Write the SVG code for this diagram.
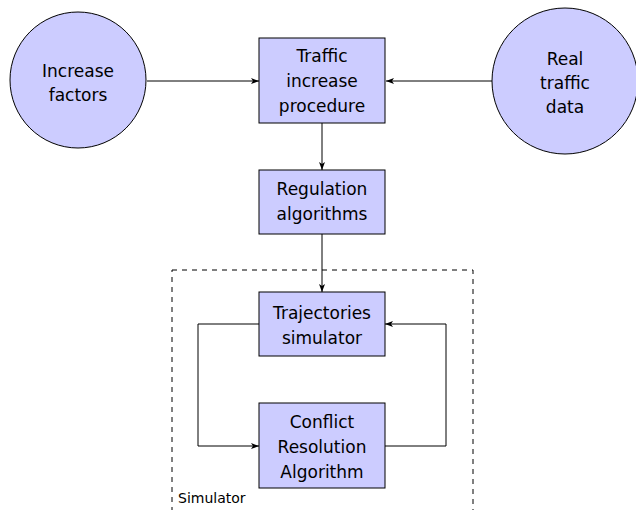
<svg xmlns="http://www.w3.org/2000/svg" width="636" height="510" viewBox="0 0 636 510">
<style>
.n{fill:#ccccff;stroke:#000;stroke-width:1}
.t{font-family:"DejaVu Sans","Liberation Sans",sans-serif;font-size:17px;fill:#000;text-anchor:middle}
.c{fill:none;stroke:#000;stroke-width:1}
</style>
<defs>
<marker id="a" viewBox="0 0 8 6" refX="8" refY="3" markerWidth="8" markerHeight="6" markerUnits="userSpaceOnUse" orient="auto">
<path d="M0,0 L8,3 L0,6 L2,3 Z" fill="#000"/>
</marker>
</defs>
<rect x="172" y="270" width="301" height="250" fill="none" stroke="#000" stroke-width="1" stroke-dasharray="5,5"/>
<text x="178" y="503" style="font-family:'DejaVu Sans','Liberation Sans',sans-serif;font-size:14px">Simulator</text>
<g id="connectors">
<line class="c" x1="147" y1="81" x2="259" y2="81" marker-end="url(#a)"/>
<line class="c" x1="492" y1="81" x2="386" y2="81" marker-end="url(#a)"/>
<line class="c" x1="322" y1="123" x2="322" y2="170" marker-end="url(#a)"/>
<line class="c" x1="322" y1="234" x2="322" y2="292" marker-end="url(#a)"/>
<polyline class="c" points="259,324 198,324 198,446 259,446" marker-end="url(#a)"/>
<polyline class="c" points="385,446 446,446 446,324 385,324" marker-end="url(#a)"/>
</g>
<g id="increase">
<circle class="n" cx="78" cy="80" r="68"/>
<text class="t" x="78" y="77">Increase</text>
<text class="t" x="78" y="101">factors</text>
</g>
<g id="real">
<circle class="n" cx="565" cy="81" r="73"/>
<text class="t" x="565" y="65">Real</text>
<text class="t" x="565" y="89">traffic</text>
<text class="t" x="565" y="113">data</text>
</g>
<g id="traffic">
<rect class="n" x="259" y="38" width="126" height="85"/>
<text class="t" x="322" y="62">Traffic</text>
<text class="t" x="322" y="87">increase</text>
<text class="t" x="322" y="112">procedure</text>
</g>
<g id="regulation">
<rect class="n" x="259" y="170" width="126" height="64"/>
<text class="t" x="322" y="195">Regulation</text>
<text class="t" x="322" y="220">algorithms</text>
</g>
<g id="trajectories">
<rect class="n" x="259" y="292" width="126" height="64"/>
<text class="t" x="322" y="319">Trajectories</text>
<text class="t" x="322" y="344">simulator</text>
</g>
<g id="conflict">
<rect class="n" x="259" y="403" width="126" height="85"/>
<text class="t" x="322" y="428">Conflict</text>
<text class="t" x="322" y="453">Resolution</text>
<text class="t" x="322" y="478">Algorithm</text>
</g>
</svg>
